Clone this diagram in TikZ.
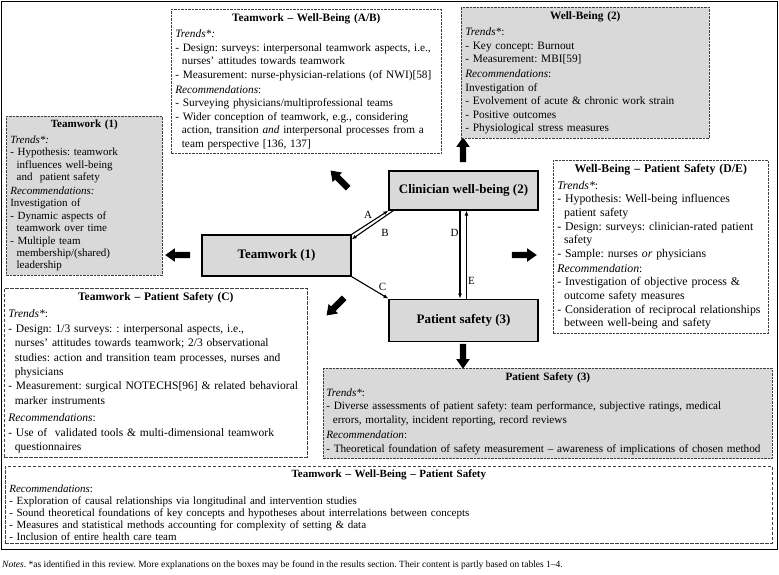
\documentclass[tikz,border=0pt]{standalone}
\usepackage{fontspec}
\setmainfont{Liberation Serif}
\usetikzlibrary{shapes.arrows, arrows.meta, positioning, calc}
\definecolor{boxgray}{HTML}{D9D9D9}
\tikzset{>={Latex}}
\frenchspacing
\newcommand{\hind}{\hspace*{0.58em}}
\newcommand{\boxtitle}[1]{\makebox[\linewidth]{\bfseries #1}\\[3pt]}

\begin{document}
\begin{tikzpicture}[
  x=1pt, y=-1pt,
  infobox/.style={draw=black!75, dash pattern=on 2.5pt off 1pt, line width=0.6pt,
    anchor=north west, align=left, inner xsep=4pt, inner ysep=4pt},
  graybox/.style={infobox, fill=boxgray},
  main/.style={draw, line width=1.2pt, fill=boxgray, minimum width=149pt,
    font=\fontsize{13}{15}\selectfont\bfseries},
  link/.style={->, >={Latex[length=5pt,width=4pt]}, line width=1.1pt},
  blockarrow/.style={single arrow, fill=black, inner xsep=0pt, inner ysep=3pt, minimum height=25pt,
    minimum width=13pt, single arrow head extend=3.5pt, single arrow tip angle=70},
  lbl/.style={font=\fontsize{11}{13}\selectfont, inner sep=1pt}
]
  \useasboundingbox (0,0) rectangle (779,574);
  \draw[line width=1pt] (1,1) rectangle (777,549);

  % Central nodes
  \node[main, minimum height=39pt] (CW) at (463.5,190.5) {Clinician well-being (2)};
  \node[main, minimum height=41pt] (TW) at (276.5,255.5) {Teamwork (1)};
  \node[main, minimum height=42pt, below=88pt of CW] (PS) {Patient safety (3)};

  % Relations A--E
  \draw[link] (TW.north east) -- node[lbl, pos=0.6, above left]{A} (CW.south west);
  \draw[link] ([xshift=5pt]CW.south west) -- node[lbl, pos=0.35, anchor=north west, xshift=1pt, yshift=-7pt]{B} ([yshift=-5pt]TW.north east);
  \draw[link] (TW.south east) -- node[lbl, pos=0.7, above right]{C} (PS.north west);
  \draw[link] ([xshift=-3.5pt]CW.south) -- node[lbl, pos=0.25, left]{D} ([xshift=-3.5pt]PS.north);
  \draw[link] ([xshift=3pt]PS.north) -- node[lbl, pos=0.2, right]{E} ([xshift=3pt]CW.south);

  % Block arrows to the boxes
  \node[blockarrow, rotate=90] (toWB) at (463,152) {};
  \node[blockarrow, rotate=135] (toTWWB) at (341,181) {};
  \node[blockarrow, rotate=180] (toTW) at (180,255) {};
  \node[blockarrow, rotate=225] (toTWPS) at (337,305) {};
  \node[blockarrow] (toWBPS) at (522,255) {};
  \node[blockarrow, rotate=270] (toPSbox) at (463,354) {};

  % Boxes
  \node[infobox, text width=262pt, font=\fontsize{11.3}{13.5}\selectfont] (TWWBbox) at (171,9) {%
    \boxtitle{Teamwork -- Well-Being (A/B)}
    \textit{Trends*:}\\
    - Design: surveys: interpersonal teamwork aspects, i.e.,\\
    \hind nurses' attitudes towards teamwork\\
    - Measurement: nurse-physician-relations (of NWI)[58]\\[1.5pt]
    \textit{Recommendations}:\\
    - Surveying physicians/multiprofessional teams\\
    - Wider conception of teamwork, e.g., considering\\
    \hind action, transition \textit{and} interpersonal processes from a\\
    \hind team perspective [136, 137]};

  \node[graybox, text width=240pt, font=\fontsize{11.3}{13.5}\selectfont] (WBbox) at (461,7) {%
    \boxtitle{Well-Being (2)}
    \textit{Trends*}:\\
    - Key concept: Burnout\\
    - Measurement: MBI[59]\\[1.5pt]
    \textit{Recommendations}:\\
    Investigation of\\
    - Evolvement of acute \& chronic work strain\\
    - Positive outcomes\\
    - Physiological stress measures};

  \node[graybox, text width=148pt, font=\fontsize{11}{12.4}\selectfont] (TWbox) at (6,116) {%
    \boxtitle{Teamwork (1)}
    \textit{Trends*:}\\
    - Hypothesis: teamwork\\
    \hind influences well-being\\
    \hind and\ \ patient safety\\[1.5pt]
    \textit{Recommendations:}\\
    Investigation of\\
    - Dynamic aspects of\\
    \hind teamwork over time\\
    - Multiple team\\
    \hind membership/(shared)\\
    \hind leadership};

  \node[infobox, text width=207pt, font=\fontsize{11.8}{13.6}\selectfont] (WBPSbox) at (553,160) {%
    \boxtitle{Well-Being -- Patient Safety (D/E)}
    \textit{Trends*}:\\
    - Hypothesis: Well-being influences\\
    \hind patient safety\\
    - Design: surveys: clinician-rated patient\\
    \hind safety\\
    - Sample: nurses \textit{or} physicians\\[1.5pt]
    \textit{Recommendation}:\\
    - Investigation of objective process \&\\
    \hind outcome safety measures\\
    - Consideration of reciprocal relationships\\
    \hind between well-being and safety};

  \node[infobox, dash pattern=on 3.5pt off 1.5pt, text width=295pt, font=\fontsize{11.5}{14.4}\selectfont] (TWPSbox) at (4,288) {%
    \boxtitle{Teamwork -- Patient Safety (C)}
    \textit{Trends*}:\\
    - Design: 1/3 surveys: : interpersonal aspects, i.e.,\\
    \hind nurses' attitudes towards teamwork; 2/3 observational\\
    \hind studies: action and transition team processes, nurses and\\
    \hind physicians\\
    - Measurement: surgical NOTECHS[96] \& related behavioral\\
    \hind marker instruments\\[3pt]
    \textit{Recommendations}:\\
    - Use of\ \ validated tools \& multi-dimensional teamwork\\
    \hind questionnaires};

  \node[graybox, inner xsep=3pt, text width=443pt, font=\fontsize{11.2}{13.4}\selectfont] (PSbox) at (323,368) {%
    \boxtitle{Patient Safety (3)}
    \textit{Trends*}:\\
    - Diverse assessments of patient safety: team performance, subjective ratings, medical\\
    \hind errors, mortality, incident reporting, record reviews\\[2pt]
    \textit{Recommendation}:\\
    - Theoretical foundation of safety measurement -- awareness of implications of chosen method};

  \node[infobox, dash pattern=on 3.5pt off 1.5pt, inner ysep=3pt, text width=759pt, font=\fontsize{11}{12}\selectfont] (allbox) at (5,466) {%
    \boxtitle{Teamwork -- Well-Being -- Patient Safety}
    \textit{Recommendations}:\\
    - Exploration of causal relationships via longitudinal and intervention studies\\
    - Sound theoretical foundations of key concepts and hypotheses about interrelations between concepts\\
    - Measures and statistical methods accounting for complexity of setting \& data\\
    - Inclusion of entire health care team};

  % Notes
  \node[anchor=west, inner sep=0pt, font=\fontsize{9.5}{11}\selectfont] (notes) at (2,565) {\textit{Notes}. *as identified in this review. More explanations on the boxes may be found in the results section. Their content is partly based on tables 1--4.};
\end{tikzpicture}
\end{document}
